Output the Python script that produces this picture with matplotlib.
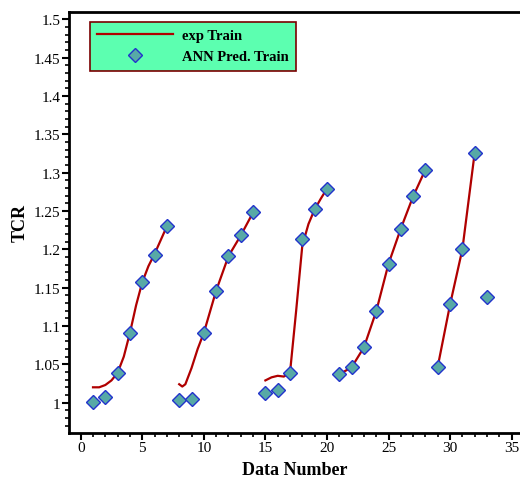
import matplotlib
matplotlib.use("Agg")
import matplotlib.pyplot as plt
from matplotlib.ticker import MultipleLocator

plt.rcParams['font.family'] = ['Liberation Serif', 'DejaVu Serif']

# ANN predictions (diamonds)
ann_x = list(range(1, 34))
ann_y = [1.001, 1.008, 1.039, 1.091, 1.157, 1.192, 1.230,
         1.003, 1.005, 1.091, 1.146, 1.191, 1.218, 1.248,
         1.012, 1.017, 1.039, 1.213, 1.252, 1.279,
         1.037, 1.046, 1.072, 1.119, 1.181, 1.227, 1.269, 1.304,
         1.047, 1.128, 1.200, 1.326, 1.138]

exp1_x = [1, 1.5, 2, 2.5, 3, 3.5, 4, 4.5, 5, 5.5, 6, 6.5, 7]
exp1_y = [1.020, 1.020, 1.023, 1.029, 1.039, 1.060, 1.091, 1.127, 1.157, 1.178, 1.194, 1.212, 1.230]
exp2_x = [8, 8.25, 8.5, 9, 9.5, 10, 11, 12, 13, 14]
exp2_y = [1.024, 1.021, 1.024, 1.045, 1.070, 1.091, 1.146, 1.191, 1.218, 1.248]
exp3_x = [15, 15.5, 16, 16.5, 17, 17.5, 18, 18.5, 19, 19.5, 20]
exp3_y = [1.029, 1.033, 1.035, 1.034, 1.039, 1.120, 1.205, 1.233, 1.252, 1.266, 1.279]
exp4_x = [21, 22, 23, 24, 25, 26, 27, 28]
exp4_y = [1.037, 1.046, 1.072, 1.119, 1.181, 1.227, 1.269, 1.304]
exp5_x = [29, 30, 31, 32]
exp5_y = [1.047, 1.128, 1.200, 1.326]

fig = plt.figure(figsize=(5.2, 4.81), dpi=100)
ax = fig.add_axes([69 / 520, 47 / 481, 451 / 520, 421 / 481])

line_color = '#B00000'
segs = [(exp1_x, exp1_y), (exp2_x, exp2_y), (exp3_x, exp3_y), (exp4_x, exp4_y), (exp5_x, exp5_y)]
for i, (sx, sy) in enumerate(segs):
    ax.plot(sx, sy, color=line_color, lw=1.6, label="exp Train" if i == 0 else None, zorder=2)

ax.plot(ann_x, ann_y, ls='none', marker='D', ms=7.5, mfc='#57A9A6', mec='#2233CC', mew=1.0,
        label="ANN Pred. Train", zorder=3)

ax.xaxis.set_major_locator(MultipleLocator(5))
ax.xaxis.set_minor_locator(MultipleLocator(1))
ax.yaxis.set_minor_locator(MultipleLocator(0.01))
ax.set_yticks([1, 1.05, 1.1, 1.15, 1.2, 1.25, 1.3, 1.35, 1.4, 1.45, 1.5])
ax.set_yticklabels(['1', '1.05', '1.1', '1.15', '1.2', '1.25', '1.3', '1.35', '1.4', '1.45', '1.5'])
ax.set_xlim(-0.95, 35.68)
ax.set_ylim(0.9604, 1.5095)

ax.tick_params(which='major', direction='out', length=5, width=1.5, labelsize=11, pad=1)
ax.tick_params(which='minor', direction='out', length=3, width=1.2)
for s in ['left', 'bottom', 'top']:
    ax.spines[s].set_linewidth(2)
ax.spines['right'].set_visible(False)

ax.set_xlabel("Data Number", fontsize=13, fontweight='bold', labelpad=5)
ax.set_ylabel("TCR", fontsize=13, fontweight='bold', labelpad=4)

leg = ax.legend(loc='upper left', bbox_to_anchor=(0.0466, 0.977), borderaxespad=0,
                fancybox=False, framealpha=1, handlelength=5.2, handletextpad=0.6,
                prop={'weight': 'bold', 'size': 10.5}, borderpad=0.5, labelspacing=0.55)
leg.get_frame().set_facecolor('#5CFFB0')
leg.get_frame().set_edgecolor('#7A0000')
leg.get_frame().set_linewidth(1.2)

fig.savefig("out.png", dpi=100)
